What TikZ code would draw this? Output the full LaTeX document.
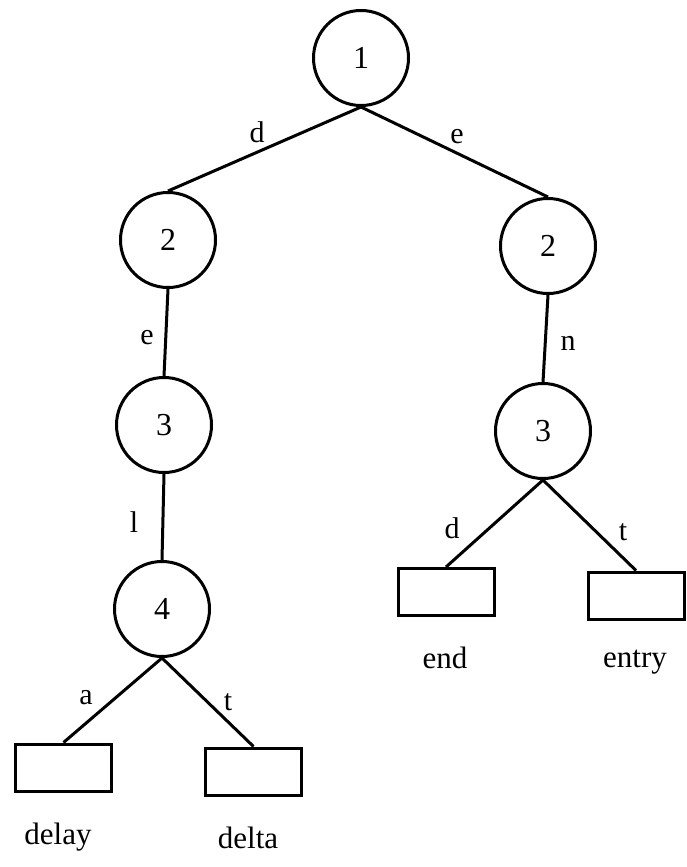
\documentclass[tikz,border=0pt]{standalone}
\usepackage{fontspec}
\setmainfont{Liberation Serif}
\begin{document}
\begin{tikzpicture}[x=1pt,y=-1pt,
  state/.style={draw, circle, line width=3pt, minimum size=95pt, inner sep=0pt, font=\fontsize{32}{36}\selectfont},
  leaf/.style={draw, rectangle, line width=3pt, minimum width=96pt, minimum height=47pt, inner sep=0pt},
  link/.style={line width=3pt},
  lbl/.style={inner sep=0pt, font=\fontsize{30}{34}\selectfont},
  word/.style={inner sep=0pt, font=\fontsize{31}{35}\selectfont}]
\useasboundingbox (0,0) rectangle (686,867);

% trie states
\node[state] (n1)  at (361,58)  {1};
\node[state] (n2l) at (168,240) {2};
\node[state] (n2r) at (548,246) {2};
\node[state] (n3l) at (164,425) {3};
\node[state] (n3r) at (543,431) {3};
\node[state] (n4)  at (162,609) {4};

% leaves
\node[leaf] (bdelay) at (63.5,767.5) {};
\node[leaf] (bdelta) at (253.5,771.5) {};
\node[leaf] (bend)   at (446,592) {};
\node[leaf] (bentry) at (636,595.5) {};

% transitions
\draw[link] (n1.south) -- (n2l.north);
\draw[link] (n1.south) -- (n2r.north);
\draw[link] (n2l.south) -- (n3l.north);
\draw[link] (n3l.south) -- (n4.north);
\draw[link] (n2r.south) -- (n3r.north);
\draw[link] (n4.south) -- (bdelay.north);
\draw[link] (n4.south) -- (bdelta.north);
\draw[link] (n3r.south) -- (bend.north);
\draw[link] (n3r.south) -- (bentry.north);

% transition letters
\node[lbl] (ld1) at (257,132) {d};
\node[lbl] (le1) at (457,137) {e};
\node[lbl] (le2) at (147,338) {e};
\node[lbl] (ln2) at (568,343) {n};
\node[lbl] (ll3) at (134,522) {l};
\node[lbl] (la4) at (86,698)  {a};
\node[lbl] (lt4) at (228,702) {t};
\node[lbl] (ld3) at (452,528) {d};
\node[lbl] (lt3) at (623,532) {t};

% words
\node[word] (wdelay) at (58,837)  {delay};
\node[word] (wdelta) at (248,838) {delta};
\node[word] (wend)   at (445,658) {end};
\node[word] (wentry) at (635,662) {entry};
\end{tikzpicture}
\end{document}
